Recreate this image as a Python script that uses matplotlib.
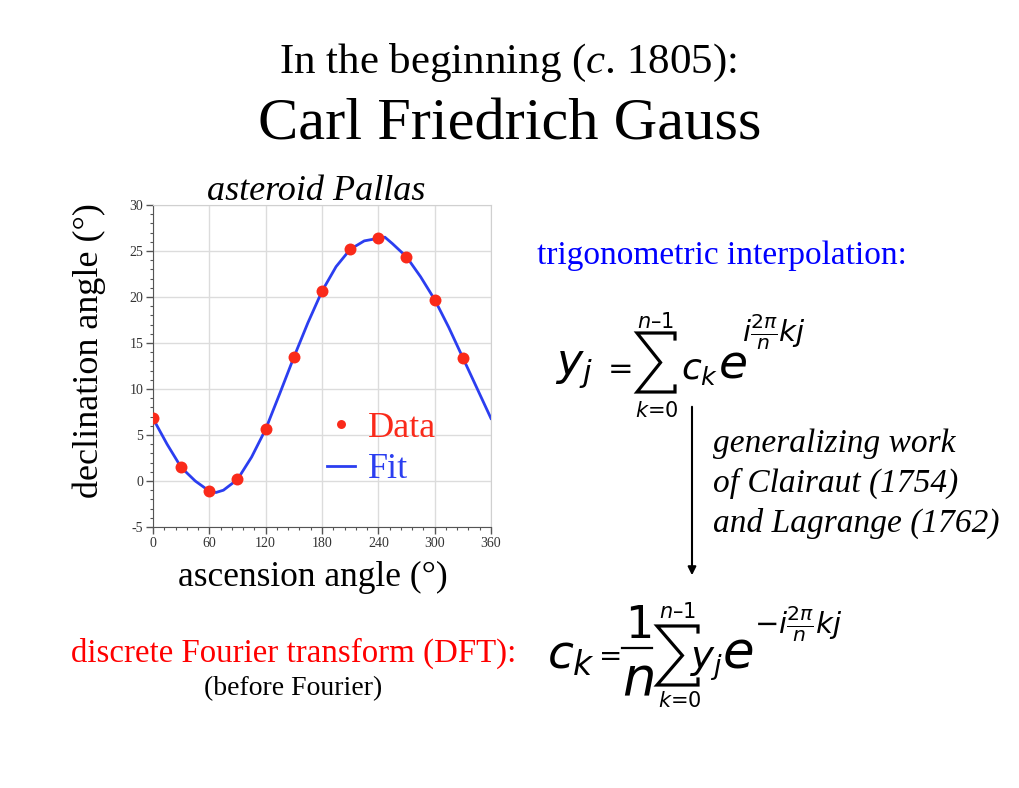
import numpy as np
import matplotlib
matplotlib.use("Agg")
import matplotlib.pyplot as plt
from matplotlib.ticker import MultipleLocator
from matplotlib.patches import FancyArrowPatch

# Gauss's Pallas observations (degrees)
ASCENSION = [0, 30, 60, 90, 120, 150, 180, 210, 240, 270, 300, 330]
DECLINATION = [6.8, 1.48, -1.1, 0.17, 5.63, 13.45, 20.63, 25.18, 26.38, 24.37, 19.72, 13.4]

# fit curve
FIT_X = [0, 15, 30, 45, 60, 67, 75, 90, 105, 120, 135, 150, 165, 180, 195,
         210, 225, 240, 247, 255, 270, 285, 300, 315, 330, 345, 360]
FIT_Y = [6.8, 4.0, 1.48, 0.0, -1.1, -1.25, -1.0, 0.17, 2.6, 5.63, 9.5, 13.45,
         17.2, 20.63, 23.3, 25.18, 26.1, 26.38, 26.5, 25.8, 24.37, 22.2, 19.72,
         16.7, 13.4, 10.1, 6.8]

W, H = 1020, 788
SERIF = ["Liberation Serif", "DejaVu Serif"]
SANS = ["DejaVu Sans"]
DATA_RED = "#fa2a1a"
FIT_BLUE = "#2b3ef0"

plt.rcParams["font.family"] = SERIF
plt.rcParams["axes.unicode_minus"] = False
plt.rcParams["mathtext.fontset"] = "custom"
plt.rcParams["mathtext.it"] = "DejaVu Sans:italic"
plt.rcParams["mathtext.rm"] = "DejaVu Sans"
plt.rcParams["mathtext.sf"] = "DejaVu Sans"
plt.rcParams["mathtext.bf"] = "Liberation Serif:italic"  # for the italic "c." in the title


def px(x, y):
    """Pixel position (from top-left) to figure fraction."""
    return x / W, 1 - y / H


fig = plt.figure(figsize=(W / 100, H / 100), dpi=100)
fig.patch.set_facecolor("white")


def put(x, y, s, size, **kw):
    kw.setdefault("va", "baseline")
    return fig.text(*px(x, y), s, fontsize=size, **kw)


def big_sum(x0, x1, y0, y1):
    """Draw a thin summation sign filling the pixel box (x0..x1, y0..y1)."""
    xm = x0 + 0.62 * (x1 - x0)
    ym = 0.5 * (y0 + y1)
    xs = [x1, x1, x0, xm, x0, x1, x1]
    ys = [y0 + 6, y0, y0, ym, y1, y1, y1 - 6]
    fig.add_artist(plt.Line2D([x / W for x in xs], [1 - y / H for y in ys],
                              color="black", lw=2.3, solid_joinstyle="miter"))


# %%
# Pallas plot
left, top, right, bottom = 153, 205, 491, 527
ax = fig.add_axes([left / W, 1 - bottom / H, (right - left) / W, (bottom - top) / H])
ax.plot(FIT_X, FIT_Y, color=FIT_BLUE, lw=2.0, label="Fit", zorder=2)
ax.plot(ASCENSION, DECLINATION, "o", color=DATA_RED, ms=8.6, mec="none",
        label="Data", zorder=3)
ax.set_xlim(0, 360)
ax.set_ylim(-5, 30)
ax.xaxis.set_major_locator(MultipleLocator(60))
ax.xaxis.set_minor_locator(MultipleLocator(12))
ax.yaxis.set_major_locator(MultipleLocator(5))
ax.yaxis.set_minor_locator(MultipleLocator(1))
ax.grid(True, which="major", color="#dcdcdc", lw=1.0)
ax.set_axisbelow(True)
for side in ("top", "right"):
    ax.spines[side].set_color("#d0d0d0")
for side in ("left", "bottom"):
    ax.spines[side].set_color("#555555")
ax.tick_params(which="major", length=5, width=1.0, color="#555555",
               labelsize=10, labelcolor="#333333", pad=2)
ax.tick_params(which="minor", length=2.5, width=0.8, color="#555555")

handles, labels = ax.get_legend_handles_labels()
ax.legend(handles[::-1], labels[::-1], loc="center left",
          bbox_to_anchor=((327 - left) / (right - left), (bottom - 449) / (bottom - top)),
          frameon=False, fontsize=26, handlelength=0.78, handletextpad=0.36,
          labelspacing=0.22, borderpad=0, borderaxespad=0, markerscale=0.75,
          labelcolor=[DATA_RED, FIT_BLUE])

put(316, 200, "asteroid Pallas", 26, style="italic", ha="center")
put(313, 586, "ascension angle (°)", 25.5, ha="center")
fig.text(*px(89, 351), "declination angle (°)", fontsize=26, rotation=90,
         ha="center", va="center")

# %%
# Slide text
put(508, 73, r"In the beginning ($\mathbf{c}$. 1805):", 31, ha="center")
put(510, 140, "Carl Friedrich Gauss", 43.5, ha="center")

put(722, 264, "trigonometric interpolation:", 24, color="blue", ha="center")
for yb, line in zip((452, 492, 532),
                    ("generalizing work", "of Clairaut (1754)", "and Lagrange (1762)")):
    put(713, yb, line, 24, style="italic")

put(516, 662, "discrete Fourier transform (DFT):", 23.7, color="red", ha="right")
put(293, 695, "(before Fourier)", 20, ha="center")

# %%
# Equations, pieced together to match the slide
put(555, 375, r"$y_j$", 32)
put(617, 376, r"$=$", 22, ha="center")
big_sum(637, 675, 333, 392)
put(656, 328, "$n$\u20131", 15, ha="center", family=SANS)
put(657, 417, "$k$=0", 15, ha="center", family=SANS)
put(681, 379, r"$c_k$", 26)
put(718, 378, r"$e$", 34)
put(742, 332, r"$i\frac{2\pi}{n}kj$", 21, va="center")

put(547, 668, r"$c_k$", 34)
put(607, 663, r"$=$", 20, ha="center")
put(639, 638, "1", 32, ha="center", family=SANS)
fig.add_artist(plt.Line2D([622 / W, 652 / W], [1 - 648 / H] * 2, color="black", lw=1.6))
put(638, 695, r"$n$", 38, ha="center")
big_sum(657, 698, 626, 685)
put(678, 618, "$n$\u20131", 15, ha="center", family=SANS)
put(680, 707, "$k$=0", 15, ha="center", family=SANS)
put(690, 669, r"$y_j$", 28)
put(722, 667, r"$e$", 37)
put(754, 624, r"$-i\frac{2\pi}{n}kj$", 21, va="center")

fig.add_artist(FancyArrowPatch(
    px(692, 404), px(692, 578), transform=fig.transFigure,
    arrowstyle="-|>", mutation_scale=12, color="black", lw=1.5))

fig.savefig("out.png", dpi=100)
